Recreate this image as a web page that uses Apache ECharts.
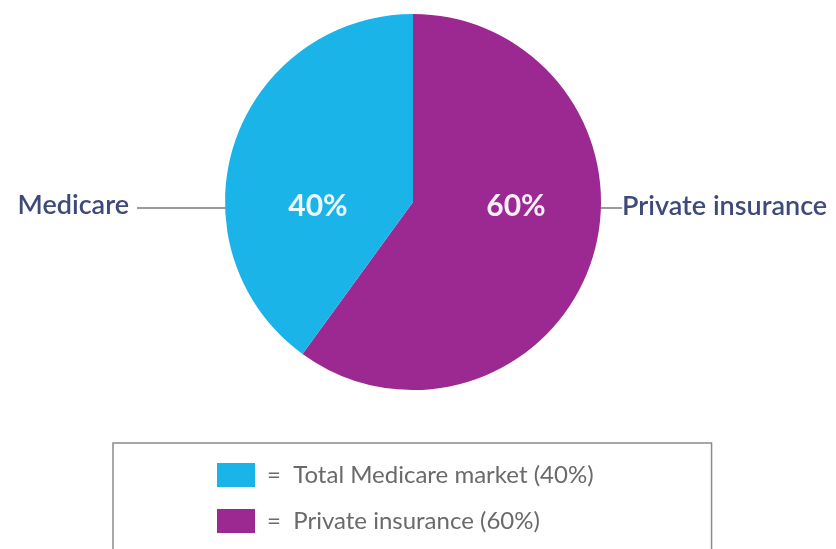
<!DOCTYPE html>
<html>
<head>
<meta charset="utf-8">
<script src="https://cdn.jsdelivr.net/npm/echarts@6/dist/echarts.min.js"></script>
<style>
  html, body { margin: 0; padding: 0; background: #fff; }
  #chart { width: 836px; height: 549px; }
</style>
</head>
<body>
<div id="chart"></div>
<script>
// data
const names = ["Private insurance", "Medicare"];
const values = [60, 40];
const colors = ["#9c2891", "#1ab4e8"];
const legendNames = ["Medicare", "Private insurance"];
const legendText = {
    "Medicare": "=  Total Medicare market (40%)",
    "Private insurance": "=  Private insurance (60%)"
};

const cx = 413, cy = 202, radius = 188;

const chart = echarts.init(document.getElementById("chart"));

const pieData = names.map((n, i) => ({ name: n, value: values[i], itemStyle: { color: colors[i] } }));

chart.setOption({
    animation: false,
    legend: {
        orient: "vertical",
        left: 113,
        top: 443,
        height: 80,
        padding: [20, 118, 30, 104],
        borderColor: "#8a8a8a",
        borderWidth: 1.5,
        itemGap: 22,
        itemWidth: 38,
        itemHeight: 24,
        icon: "rect",
        data: legendNames,
        formatter: name => legendText[name],
        textStyle: {
            color: "#6a6a6a",
            fontFamily: "Lato",
            fontSize: 24,
            padding: [0, 0, 0, 7]
        }
    },
    series: [
        {
            // the pie with percentages inside
            type: "pie",
            center: [cx, cy],
            radius: radius,
            startAngle: 90,
            clockwise: true,
            data: pieData,
            label: {
                show: true,
                position: "inside",
                formatter: p => p.value + "%",
                color: "rgba(255,255,255,0.92)",
                fontFamily: "Lato",
                fontWeight: "bold",
                fontSize: 30
            },
            labelLayout: p => ({
                x: p.dataIndex === 0 ? cx + 103 : cx - 95,
                y: cy + 4,
                align: "center",
                verticalAlign: "middle"
            }),
            labelLine: { show: false },
            emphasis: { disabled: true }
        },
        {
            // transparent copy only for the outer name labels
            type: "pie",
            center: [cx, cy],
            radius: radius,
            startAngle: 90,
            clockwise: true,
            silent: true,
            data: names.map((n, i) => ({ name: n, value: values[i] })),
            itemStyle: { color: "transparent" },
            label: {
                show: true,
                position: "outside",
                formatter: "{b}",
                overflow: "none",
                color: "#3d4a7a",
                fontFamily: "Lato",
                fontWeight: 600,
                fontSize: 27
            },
            labelLine: {
                show: true,
                lineStyle: { color: "#7a7a7a", width: 1.5 }
            },
            labelLayout: p => {
                if (p.dataIndex === 0) {
                    return {
                        x: 622, y: cy + 4, align: "left", verticalAlign: "middle",
                        labelLinePoints: [[cx + radius - 13, cy + 6], [611, cy + 6], [622, cy + 6]]
                    };
                }
                return {
                    x: 129, y: cy + 3, align: "right", verticalAlign: "middle",
                    labelLinePoints: [[cx - radius + 3, cy + 6], [170, cy + 6], [137, cy + 6]]
                };
            },
            emphasis: { disabled: true }
        }
    ]
});
</script>
</body>
</html>
